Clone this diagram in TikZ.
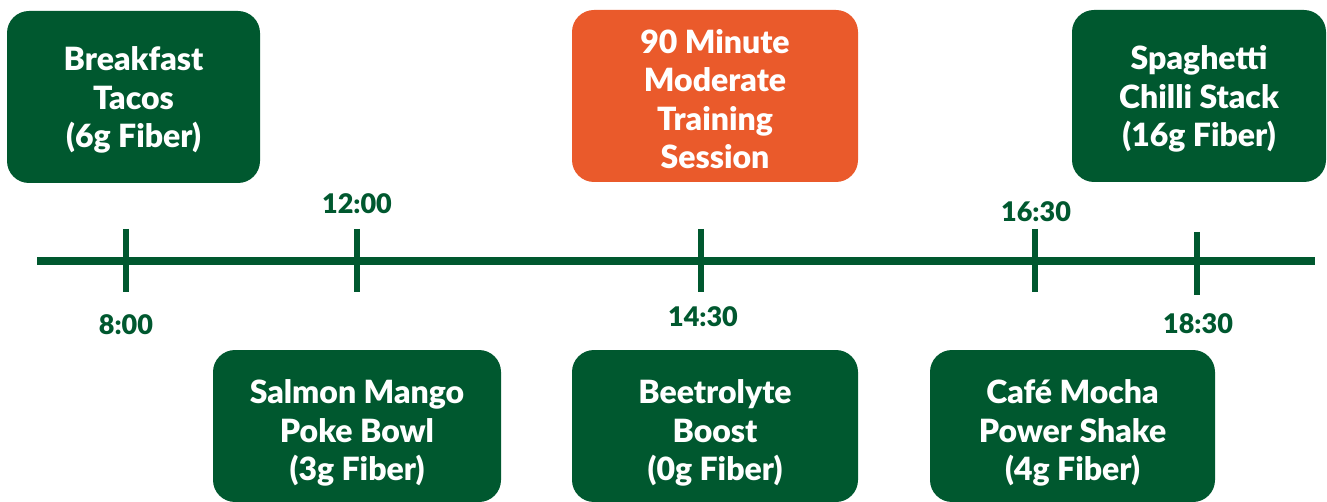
\documentclass[tikz,border=0pt]{standalone}
\usepackage{fontspec}
\setmainfont{Lato}[BoldFont={Lato Black}]
\definecolor{mealgreen}{RGB}{0,88,47}
\definecolor{trainorange}{RGB}{234,90,43}

\tikzstyle{meal} = [fill=mealgreen, rounded corners=22pt, inner sep=0pt]
\tikzstyle{training} = [meal, fill=trainorange]
\tikzstyle{mealtext} = [text=white, align=center, inner sep=0pt, font=\fontsize{32}{38.5}\selectfont\bfseries]
\tikzstyle{timelabel} = [text=mealgreen, inner sep=0pt, font=\fontsize{27}{30}\selectfont\bfseries]
\tikzstyle{timetick} = [draw=mealgreen, line width=6pt]

\begin{document}
\begin{tikzpicture}[x=1pt, y=-1pt]
      \useasboundingbox (0,0) rectangle (1327,502);

      % timeline
      \coordinate (start) at (37,261);
      \coordinate (end) at (1315,261);
      \draw[mealgreen, line width=8pt] (start) -- (end);

      \draw[timetick] (126,229) -- (126,292);
      \draw[timetick] (357,229) -- (357,292);
      \draw[timetick] (701,229) -- (701,292);
      \draw[timetick] (1035,229) -- (1035,292);
      \draw[timetick] (1197,232) -- (1197,295);

      \node[timelabel] (t8) at (126,325) {8:00};
      \node[timelabel] (t12) at (357,204) {12:00};
      \node[timelabel] (t1430) at (703,317) {14:30};
      \node[timelabel] (t1630) at (1036,212) {16:30};
      \node[timelabel] (t1830) at (1198,324) {18:30};

      % meals above
      \node[meal, minimum width=253pt, minimum height=172pt] (tacos) at (133.5,97) {};
      \node[mealtext] (tacostext) at ([yshift=-3pt]tacos.center) {Breakfast\\Tacos\\(6g Fiber)};
      \node[training, minimum width=286pt, minimum height=172pt] (session) at (715,96) {};
      \node[mealtext] (sessiontext) at ([yshift=-3pt]session.center) {90 Minute\\Moderate\\Training\\Session};
      \node[meal, minimum width=254pt, minimum height=172pt] (spaghetti) at (1199,96) {};
      \node[mealtext] (spaghettitext) at ([yshift=-3pt]spaghetti.center) {Spaghetti\\Chilli Stack\\(16g Fiber)};

      % meals below
      \node[meal, minimum width=288pt, minimum height=152pt] (poke) at (357,426) {};
      \node[mealtext] (poketext) at ([yshift=-7pt]poke.center) {Salmon Mango\\Poke Bowl\\(3g Fiber)};
      \node[meal, minimum width=286pt, minimum height=152pt] (beet) at (715,426) {};
      \node[mealtext] (beettext) at ([yshift=-7pt]beet.center) {Beetrolyte\\Boost\\(0g Fiber)};
      \node[meal, minimum width=285pt, minimum height=152pt] (mocha) at (1072.5,426) {};
      \node[mealtext] (mochatext) at ([yshift=-7pt]mocha.center) {Café Mocha\\Power Shake\\(4g Fiber)};
    \end{tikzpicture}
\end{document}
